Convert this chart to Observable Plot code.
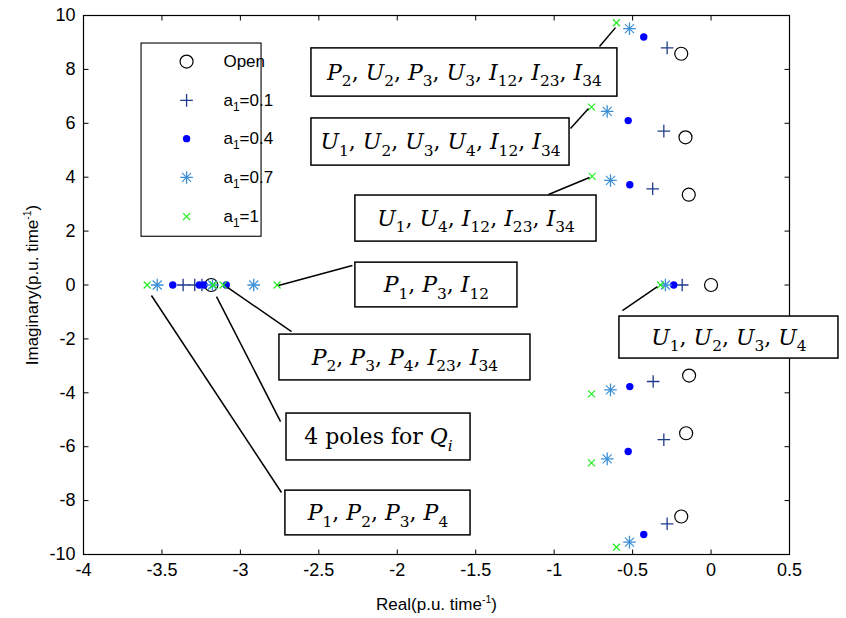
<!DOCTYPE html>
<html><head><meta charset="utf-8">
<script src="https://cdn.jsdelivr.net/npm/d3@7"></script>
<script src="https://cdn.jsdelivr.net/npm/@observablehq/plot@0.6"></script>
<style>html,body{margin:0;padding:0;background:#fff;} #chart{width:846px;height:618px;}</style>
</head><body><div id="chart"></div>
<script>
// ---------- data ----------
const xTicks = [-4, -3.5, -3, -2.5, -2, -1.5, -1, -0.5, 0, 0.5];
const yTicks = [-10, -8, -6, -4, -2, 0, 2, 4, 6, 8, 10];
const xLabel = "Real(p.u. time^{-1})";
const yLabel = "Imaginary(p.u. time^{-1})";
const seriesNames = ["Open", "a_{1}=0.1", "a_{1}=0.4", "a_{1}=0.7", "a_{1}=1"];

const openRe = [-0.190, -0.163, -0.142, 0.0, -0.140, -0.159, -0.190, -3.186];
const openIm = [8.58, 5.48, 3.35, 0, -3.36, -5.50, -8.59, 0];

const a01Re = [-0.280, -0.301, -0.372, -0.184, -0.369, -0.301, -0.280, -3.365, -3.291, -3.245];
const a01Im = [8.80, 5.71, 3.57, 0, -3.58, -5.74, -8.86, 0, 0, 0];

const a04Re = [-0.429, -0.528, -0.518, -0.238, -0.518, -0.528, -0.429, -3.431, -3.262, -3.232, -3.090];
const a04Im = [9.20, 6.10, 3.72, 0, -3.77, -6.18, -9.26, 0, 0, 0, 0];

const a07Re = [-0.520, -0.662, -0.641, -0.291, -0.641, -0.662, -0.520, -3.530, -3.178, -2.915];
const a07Im = [9.51, 6.44, 3.88, 0, -3.89, -6.45, -9.54, 0, 0, 0];

const a1Re = [-0.603, -0.762, -0.758, -0.322, -0.762, -0.762, -0.603, -3.594, -3.173, -3.110, -2.766];
const a1Im = [9.73, 6.60, 4.03, 0, -4.04, -6.60, -9.73, 0, 0, 0, 0];

const annotationTexts = [
  "P_{2}, U_{2}, P_{3}, U_{3}, I_{12}, I_{23}, I_{34}",
  "U_{1}, U_{2}, U_{3}, U_{4}, I_{12}, I_{34}",
  "U_{1}, U_{4}, I_{12}, I_{23}, I_{34}",
  "P_{1}, P_{3}, I_{12}",
  "P_{2}, P_{3}, P_{4}, I_{23}, I_{34}",
  "4 poles for Q_{i}",
  "P_{1}, P_{2}, P_{3}, P_{4}",
  "U_{1}, U_{2}, U_{3}, U_{4}"
];

// ---------- layout (data units) ----------
const boxX1 = [-2.547, -2.547, -2.267, -2.267, -2.751, -2.706, -2.713, -0.584];
const boxX2 = [-0.597, -0.902, -0.730, -1.234, -1.151, -1.533, -1.533, 0.812];
const boxY1 = [8.78, 6.18, 3.32, 0.83, -1.84, -4.77, -7.63, -1.17];
const boxY2 = [6.99, 4.43, 1.61, -0.83, -3.54, -6.51, -9.29, -2.73];
const lineX1 = [-0.711, -0.896, -1.036, -2.286, -2.674, -2.744, -2.738, -0.565];
const lineY1 = [8.85, 5.81, 3.36, 0.72, -1.73, -5.07, -7.70, -0.95];
const lineX2 = [-0.609, -0.781, -0.775, -2.757, -3.082, -3.152, -3.567, -0.342];
const lineY2 = [9.55, 6.55, 3.99, -0.02, -0.09, -0.43, -0.39, -0.06];
const legendBox = {x1: -3.630, x2: -2.865, y1: 8.96, y2: 1.79};
const legendMarkX = -3.343, legendTextX = -3.108;
const legendRowY = [8.29, 6.85, 5.43, 3.99, 2.54];

// ---------- styles ----------
const cOpen = "#000000", c01 = "#1f3a8a", c04 = "#0000ff", c07 = "#3a8ed6", c1 = "#22ee22";
const T = 5; // inward tick length in px
const tickSym = (dx, dy) => ({draw(ctx) { ctx.moveTo(0, 0); ctx.lineTo(dx, dy); }});

const pts = (re, im) => re.map((x, i) => ({x, y: im[i]}));
const open = pts(openRe, openIm), s01 = pts(a01Re, a01Im), s04 = pts(a04Re, a04Im),
      s07 = pts(a07Re, a07Im), s1 = pts(a1Re, a1Im);
const boxes = annotationTexts.map((t, i) => ({t, x1: boxX1[i], x2: boxX2[i], y1: boxY1[i], y2: boxY2[i],
  cx: (boxX1[i] + boxX2[i]) / 2, cy: (boxY1[i] + boxY2[i]) / 2}));
const links = lineX1.map((x1, i) => ({x1, y1: lineY1[i], x2: lineX2[i], y2: lineY2[i]}));
const legendRows = seriesNames.map((name, i) => ({name, x: legendMarkX, tx: legendTextX, y: legendRowY[i]}));

function markers(data) {
  return [
    Plot.dot(data[0], {x: "x", y: "y", r: 6.5, stroke: cOpen, strokeWidth: 1.2, fill: "none"}),
    Plot.dot(data[1], {x: "x", y: "y", symbol: "plus", r: 4.14, stroke: c01, strokeWidth: 1.3}),
    Plot.dot(data[2], {x: "x", y: "y", r: 3.7, fill: c04, stroke: "none"}),
    Plot.dot(data[3], {x: "x", y: "y", symbol: "plus", r: 4.14, stroke: c07, strokeWidth: 1.3}),
    Plot.dot(data[3], {x: "x", y: "y", symbol: "times", r: 4.17, stroke: c07, strokeWidth: 1.1}),
    Plot.dot(data[4], {x: "x", y: "y", symbol: "times", r: 3.27, stroke: c1, strokeWidth: 1.2})
  ];
}

const chart = Plot.plot({
  width: 846, height: 618,
  marginLeft: 83, marginRight: 57, marginTop: 15, marginBottom: 64,
  style: {fontFamily: "'Liberation Sans', Arial, sans-serif", fontSize: "17px", background: "white", overflow: "visible"},
  x: {domain: [-4, 0.5]},
  y: {domain: [-10, 10]},
  marks: [
    Plot.axisX(xTicks, {anchor: "bottom", tickSize: 0, tickPadding: 9, tickFormat: d => String(d), label: null, fontSize: 18, color: "black"}),
    Plot.axisY(yTicks, {anchor: "left", tickSize: 0, tickPadding: 8, tickFormat: d => String(d), label: null, fontSize: 18, color: "black"}),
    // inward ticks on all four sides
    Plot.dot(xTicks, {x: d => d, frameAnchor: "bottom", symbol: tickSym(0, -T), stroke: "black", fill: "none", strokeWidth: 1}),
    Plot.dot(xTicks, {x: d => d, frameAnchor: "top", symbol: tickSym(0, T), stroke: "black", fill: "none", strokeWidth: 1}),
    Plot.dot(yTicks, {y: d => d, frameAnchor: "left", symbol: tickSym(T, 0), stroke: "black", fill: "none", strokeWidth: 1}),
    Plot.dot(yTicks, {y: d => d, frameAnchor: "right", symbol: tickSym(-T, 0), stroke: "black", fill: "none", strokeWidth: 1}),
    Plot.frame({stroke: "black", strokeWidth: 1.2}),
    Plot.text([xLabel], {text: d => d, frameAnchor: "bottom", textAnchor: "middle", lineAnchor: "middle", dy: 50, fontSize: 17, fill: "black"}),
    Plot.text([yLabel], {text: d => d, frameAnchor: "left", textAnchor: "middle", lineAnchor: "middle", dx: -51, rotate: -90, fontSize: 17, fill: "black"}),
    // legend
    Plot.rect([legendBox], {x1: "x1", x2: "x2", y1: "y1", y2: "y2", fill: "white", stroke: "black", strokeWidth: 1.1}),
    ...markers([[legendRows[0]], [legendRows[1]], [legendRows[2]], [legendRows[3]], [legendRows[4]]]),
    Plot.text(legendRows, {x: "tx", y: "y", text: "name", textAnchor: "start", fontSize: 17, fill: "black"}),
    // data
    ...markers([open, s01, s04, s07, s1]),
    // annotations
    Plot.link(links, {x1: "x1", y1: "y1", x2: "x2", y2: "y2", stroke: "black", strokeWidth: 1.5}),
    Plot.rect(boxes, {x1: "x1", x2: "x2", y1: "y1", y2: "y2", fill: "white", stroke: "black", strokeWidth: 1.5}),
    Plot.text(boxes, {x: "cx", y: "cy", text: "t", fontFamily: "'DejaVu Serif', serif", fontSize: 22, fill: "black"})
  ]
});
document.getElementById("chart").appendChild(chart);

// rich text: _{..} subscripts, ^{..} superscripts, italic single letters in math mode
function richify(el) {
  const s = el.textContent;
  if (!/[_^]\{/.test(s)) return;
  const g = el.closest("[font-family]");
  const math = g && /Serif/.test(g.getAttribute("font-family"));
  const parts = [];
  let i = 0;
  while (i < s.length) {
    const c = s[i];
    if ((c === "_" || c === "^") && s[i + 1] === "{") {
      const k = s.indexOf("}", i + 2);
      parts.push({t: s.slice(i + 2, k), type: c});
      i = k + 1;
    } else {
      let j = i;
      while (j < s.length && !((s[j] === "_" || s[j] === "^") && s[j + 1] === "{")) j++;
      parts.push({t: s.slice(i, j), type: ""});
      i = j;
    }
  }
  el.textContent = "";
  const ns = "http://www.w3.org/2000/svg";
  let shift = 0;
  const fs = parseFloat(getComputedStyle(el).fontSize) || 17;
  for (const p of parts) {
    const target = p.type === "_" ? fs * (math ? 0.3 : 0.3) : p.type === "^" ? -fs * 0.4 : 0;
    const segs = [];
    if (math) {
      const re = /([A-Za-z]+)|([^A-Za-z]+)/g; let m;
      while ((m = re.exec(p.t))) {
        const word = m[0];
        segs.push({t: word, it: !!m[1] && (word.length === 1)});
      }
    } else segs.push({t: p.t, it: false});
    segs.forEach((sg, idx) => {
      const ts = document.createElementNS(ns, "tspan");
      ts.textContent = sg.t;
      if (idx === 0 && target !== shift) { ts.setAttribute("dy", (target - shift).toFixed(2)); shift = target; }
      if (p.type) ts.setAttribute("font-size", (fs * (p.type === "^" ? 0.62 : 0.7)).toFixed(1));
      if (sg.it) ts.setAttribute("font-style", "italic");
      el.appendChild(ts);
    });
  }
}
chart.querySelectorAll("text").forEach(richify);
</script>
</body></html>
